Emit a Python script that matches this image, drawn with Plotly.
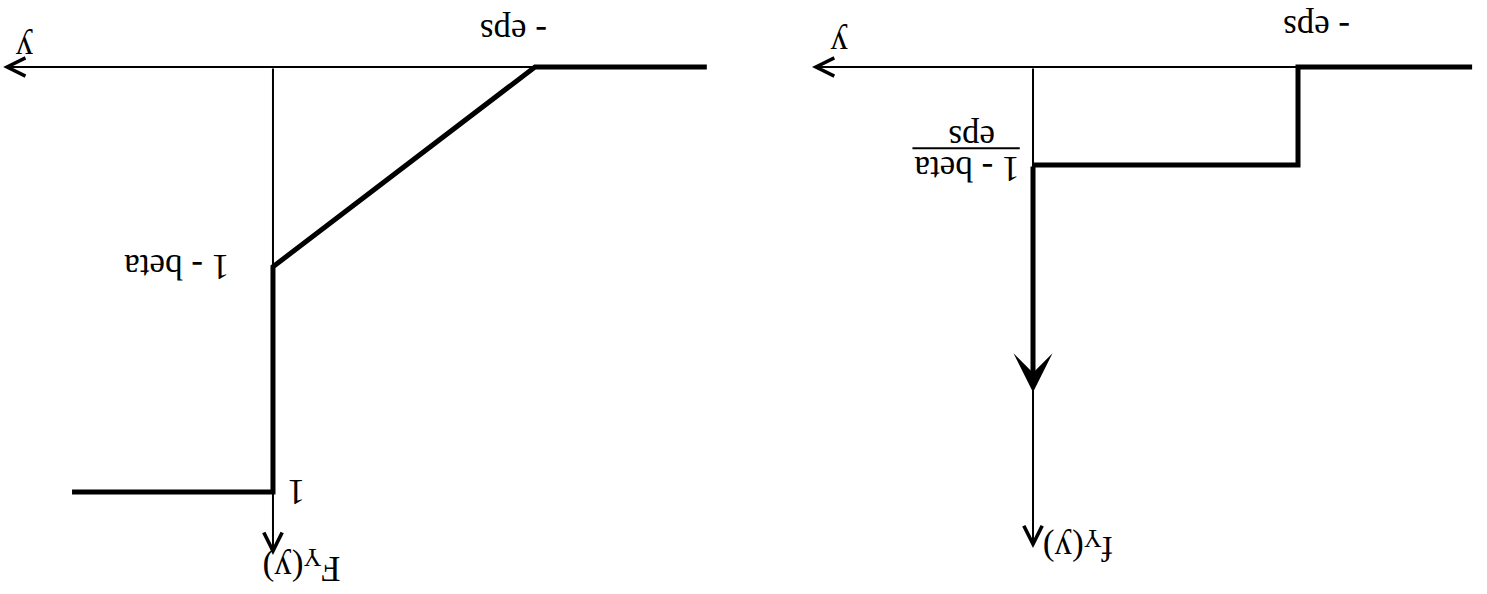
import plotly.graph_objects as go

# Distribution of Y: point mass beta at 0, uniform mass (1 - beta) on [-eps, 0].
# The sketch is drawn turned half a turn, so both axes run reversed.
EPS = 1.0
ONE_MINUS_BETA = 0.47

# Cumulative distribution F_Y(y)
cdf_y = [-1.656, -EPS, 0.0, 0.0, 0.767]
cdf_F = [0.0, 0.0, ONE_MINUS_BETA, 1.0, 1.0]

# Density f_Y(y): flat part on [-eps, 0]
pdf_y = [-1.657, -EPS, -EPS, 0.0]
pdf_f = [0.0, 0.0, ONE_MINUS_BETA / EPS, ONE_MINUS_BETA / EPS]
delta_tip = 1.56          # arrow height standing for the point mass at 0

# Axis extents (start, arrow tip)
left_h_axis = (-1.656, 1.03)
left_v_axis = (0.0, 1.148)
right_h_axis = (-1.657, 0.834)
right_v_axis = (0.0, 2.307)

FONT = "Liberation Serif, serif"
TXT = 35
INK = "black"

fig = go.Figure()

fig.add_trace(go.Scatter(x=cdf_y, y=cdf_F, mode="lines", xaxis="x", yaxis="y",
                         line=dict(color=INK, width=5), hoverinfo="skip"))
fig.add_trace(go.Scatter(x=pdf_y, y=pdf_f, mode="lines", xaxis="x2", yaxis="y2",
                         line=dict(color=INK, width=5), hoverinfo="skip"))

ann = []


def arrow(xr, yr, x0, y0, x1, y1, width, head, size):
    ann.append(dict(x=x1, y=y1, ax=x0, ay=y0, xref=xr, yref=yr, axref=xr, ayref=yr,
                    text="", showarrow=True, arrowhead=head, arrowsize=size,
                    arrowwidth=width, arrowcolor=INK, font=dict(size=TXT)))


# left panel axes
arrow("x", "y", left_h_axis[0], 0, left_h_axis[1], 0, 2, 5, 1.8)
arrow("x", "y", 0, left_v_axis[0], 0, left_v_axis[1], 2, 5, 1.8)
# right panel axes
arrow("x2", "y2", right_h_axis[0], 0, right_h_axis[1], 0, 2, 5, 1.8)
arrow("x2", "y2", 0, right_v_axis[0], 0, right_v_axis[1], 2, 5, 1.8)
# point mass at 0
arrow("x2", "y2", 0, pdf_f[-1], 0, delta_tip, 5, 3, 1.3)


def label(xr, yr, x, y, text, size=TXT):
    ann.append(dict(x=x, y=y, xref=xr, yref=yr, text=text, showarrow=False,
                    textangle=180, xanchor="center", yanchor="middle",
                    font=dict(family=FONT, size=size, color=INK)))


label("x", "y", 0.95, -0.045, "y")
label("x", "y", -0.92, -0.085, "- eps")
label("x", "y", 0.366, ONE_MINUS_BETA, "1 - beta")
label("x", "y", -0.09, 1.0, "1")
label("x", "y", -0.11, 1.175, "F<sub>Y</sub>(y)")

label("x2", "y2", 0.73, -0.11, "y")
label("x2", "y2", -1.07, -0.19, "- eps")
label("x2", "y2", 0.25, 0.49, "1 - beta")
label("x2", "y2", 0.23, 0.335, "eps")
label("x2", "y2", -0.17, 2.3, "f<sub>Y</sub>(y)")

fig.add_shape(type="line", xref="x2", yref="y2", x0=0.05, x1=0.455, y0=0.39, y1=0.39,
              line=dict(color=INK, width=2))

hidden = dict(visible=False, showgrid=False, zeroline=False, fixedrange=True)
fig.update_layout(
    width=1487, height=594,
    margin=dict(l=0, r=0, t=0, b=0),
    paper_bgcolor="white", plot_bgcolor="white",
    showlegend=False,
    annotations=ann,
    xaxis=dict(domain=[0, 0.5], range=[1.042, -1.796], **hidden),
    yaxis=dict(domain=[0, 1], range=[1.24, -0.1576], **hidden),
    xaxis2=dict(domain=[0.5, 1], range=[1.0925, -1.7132], **hidden),
    yaxis2=dict(domain=[0, 1], range=[2.5276, -0.3213], anchor="x2", **hidden),
)

fig.write_html("out.html")
